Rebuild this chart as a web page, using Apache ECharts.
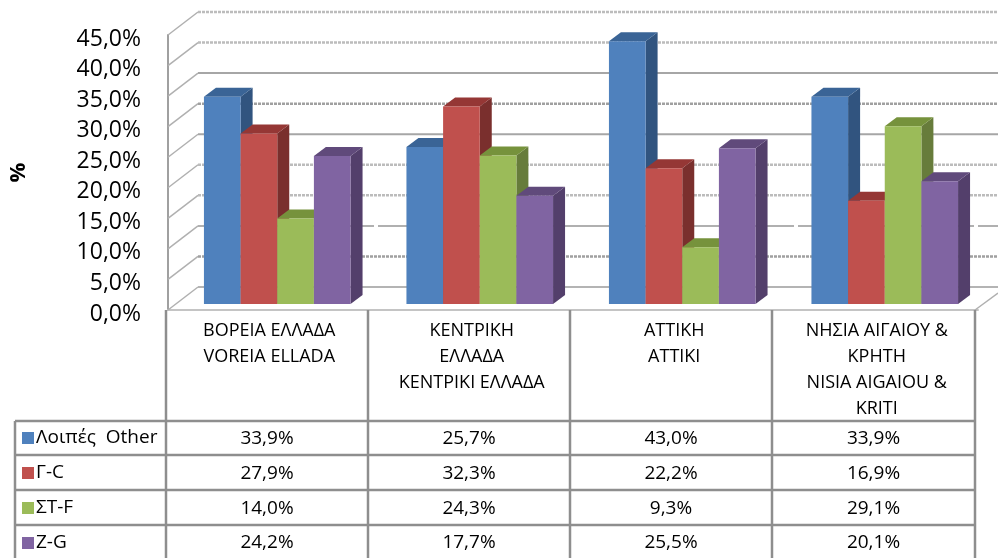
<!DOCTYPE html>
<html>
<head>
<meta charset="utf-8">
<style>
  html, body { margin: 0; padding: 0; background: #fff; }
  #myChart { width: 998px; height: 558px; }
</style>
<script src="https://cdn.jsdelivr.net/npm/echarts@6/dist/echarts.min.js"></script>
</head>
<body>
<div id="myChart"></div>
<script>
var categories = [
  'ΒΟΡΕΙΑ ΕΛΛΑΔΑ\nVOREIA ELLADA',
  'ΚΕΝΤΡΙΚΗ\nΕΛΛΑΔΑ\nΚΕΝΤΡΙΚΙ ΕΛΛΑΔΑ',
  'ΑΤΤΙΚΗ\nATTIKI',
  'ΝΗΣΙΑ ΑΙΓΑΙΟΥ &\nΚΡΗΤΗ\nNISIA AIGAIOU &\nKRITI'
]
var seriesNames = ['Λοιπές  Other', 'Γ-C', 'ΣΤ-F', 'Z-G']
var other = [33.9, 25.7, 43.0, 33.9]
var gc = [27.9, 32.3, 22.2, 16.9]
var stf = [14.0, 24.3, 9.3, 29.1]
var zg = [24.2, 17.7, 25.5, 20.1]
var seriesValues = [other, gc, stf, zg]
var gridValues = [0, 5, 10, 15, 20, 25, 30, 35, 40, 45]

// front, top, side face of each bar
var faceColors = [
  ['#4f81bd', '#3a6496', '#31547f'],
  ['#c0504d', '#953735', '#7a2f2d'],
  ['#9bbb59', '#76923c', '#677c3b'],
  ['#8064a2', '#604a7b', '#533f6b']
]
// the back wall lines are not all drawn alike in the picture
var lineLooks = {
  0: { color: '#b4b4b4', width: 2 },
  5: { color: '#a0a0a0', width: 2.5, dash: [3, 1] },
  10: { color: '#b0b0b0', width: 2, dash: [56, 4] },
  15: { color: '#bcbcbc', width: 2.5, dash: [3, 1] },
  20: { color: '#bcbcbc', width: 2.5, dash: [3, 1] },
  25: { color: '#a6a6a6', width: 2 },
  30: { color: '#a0a0a0', width: 2.5, dash: [3, 1] },
  35: { color: '#a6a6a6', width: 2 },
  40: { color: '#bcbcbc', width: 2.5, dash: [3, 1] },
  45: { color: '#bcbcbc', width: 2.5, dash: [3, 1] }
}

var FONT = '"Open Sans", sans-serif'
var wallDx = 30
var wallDy = -23
var barDx = 8
var barDy = -6
var sideDx = 12
var sideDy = -9

var colX = [166, 368, 570, 772, 975]
var rowY = [421, 455, 490, 525]
var tableLeft = 15
var lineColor = '#8e8e8e'

function pct (v) {
  return v.toFixed(1).replace('.', ',') + '%'
}

function renderWall (params, api) {
  var rect = params.coordSys
  var y = api.coord([0, api.value(0)])[1]
  var look = lineLooks[api.value(0)]
  var children = [
    {
      type: 'line',
      shape: { x1: rect.x, y1: y, x2: rect.x + wallDx, y2: y + wallDy },
      style: { stroke: '#b0b0b0', lineWidth: 1.5 }
    },
    {
      type: 'line',
      shape: { x1: rect.x + wallDx, y1: y + wallDy, x2: 998, y2: y + wallDy },
      style: { stroke: look.color, lineWidth: look.width, lineDash: look.dash || null }
    }
  ]
  if (api.value(0) === 0) {
    // floor edge at the right
    children.push({
      type: 'line',
      shape: { x1: colX[4], y1: y, x2: 998, y2: y - 17 },
      style: { stroke: '#b0b0b0', lineWidth: 1.5 }
    })
  }
  return { type: 'group', children: children }
}

function makeBarRender (idx) {
  return function (params, api) {
    var base = api.coord([api.value(0), 0])
    var top = api.coord([api.value(0), api.value(1)])
    var w = api.size([1, 0])[0] * 0.181
    var x = base[0] + barDx - 2 * w + idx * w
    var y0 = base[1] + barDy
    var y1 = top[1] + barDy
    var c = faceColors[idx]
    return {
      type: 'group',
      children: [
        {
          type: 'polygon',
          shape: { points: [[x + w, y1], [x + w + sideDx, y1 + sideDy], [x + w + sideDx, y0 + sideDy], [x + w, y0]] },
          style: { fill: c[2] }
        },
        {
          type: 'polygon',
          shape: { points: [[x, y1], [x + sideDx, y1 + sideDy], [x + w + sideDx, y1 + sideDy], [x + w, y1]] },
          style: { fill: c[1] }
        },
        {
          type: 'rect',
          shape: { x: x, y: y1, width: w, height: y0 - y1 },
          style: { fill: c[0] }
        }
      ]
    }
  }
}

function tableLine (x1, y1, x2, y2) {
  return {
    type: 'line',
    shape: { x1: x1, y1: y1, x2: x2, y2: y2 },
    style: { stroke: lineColor, lineWidth: 2.5 },
    z: 5
  }
}

function buildTable () {
  var items = []
  for (var c = 0; c < colX.length; c++) {
    items.push(tableLine(colX[c], 310, colX[c], 558))
  }
  items.push(tableLine(tableLeft, rowY[0], tableLeft, 558))
  for (var r = 0; r < rowY.length; r++) {
    items.push(tableLine(tableLeft, rowY[r], colX[4], rowY[r]))
  }
  for (var s = 0; s < seriesValues.length; s++) {
    var cy = s < 3 ? (rowY[s] + rowY[s + 1]) / 2 + 1 : rowY[3] + 18
    for (var i = 0; i < categories.length; i++) {
      items.push({
        type: 'text',
        x: (colX[i] + colX[i + 1]) / 2,
        y: cy,
        z: 6,
        style: {
          text: pct(seriesValues[s][i]),
          fill: '#000',
          font: '19px ' + FONT,
          align: 'center',
          verticalAlign: 'middle'
        }
      })
    }
  }
  return items
}

var series = [{
  type: 'custom',
  name: 'wall',
  silent: true,
  clip: false,
  z: 1,
  data: gridValues.map(function (v) { return [v] }),
  encode: { y: 0 },
  renderItem: renderWall
}]
seriesNames.forEach(function (name, idx) {
  series.push({
    type: 'custom',
    name: name,
    clip: false,
    z: 2 + idx,
    itemStyle: { color: faceColors[idx][0] },
    data: seriesValues[idx].map(function (v, i) { return [i, v] }),
    encode: { x: 0, y: 1 },
    renderItem: makeBarRender(idx)
  })
})

var myChart = echarts.init(document.getElementById('myChart'))
myChart.setOption({
  animation: false,
  backgroundColor: '#fff',
  textStyle: { fontFamily: FONT },
  grid: { left: 166, right: 20, top: 35, height: 275 },
  legend: {
    orient: 'vertical',
    left: 22,
    top: 428,
    itemWidth: 12,
    itemHeight: 12,
    itemGap: 15,
    padding: 0,
    selectedMode: false,
    data: seriesNames.map(function (n) { return { name: n, icon: 'rect' } }),
    textStyle: { fontFamily: FONT, fontSize: 19, color: '#000', lineHeight: 20, height: 20, padding: [0, 0, 0, -3] }
  },
  xAxis: {
    type: 'category',
    data: categories,
    axisTick: { show: false },
    axisLine: { lineStyle: { color: '#c4c4c4', width: 2 } },
    axisLabel: {
      interval: 0,
      margin: 8,
      color: '#000',
      fontFamily: FONT,
      fontSize: 18,
      lineHeight: 26
    }
  },
  yAxis: {
    type: 'value',
    min: 0,
    max: 45,
    interval: 5,
    name: '%',
    nameLocation: 'middle',
    nameGap: 138,
    nameRotate: 90,
    nameTextStyle: { color: '#000', fontFamily: FONT, fontWeight: 'bold', fontSize: 22 },
    splitLine: { show: false },
    axisTick: { show: false },
    axisLine: { show: true, lineStyle: { color: '#a0a0a0', width: 2 } },
    axisLabel: {
      margin: 27,
      verticalAlign: 'top',
      lineHeight: 8,
      color: '#000',
      fontFamily: FONT,
      fontSize: 23,
      formatter: pct
    }
  },
  graphic: buildTable(),
  series: series
})
</script>
</body>
</html>
